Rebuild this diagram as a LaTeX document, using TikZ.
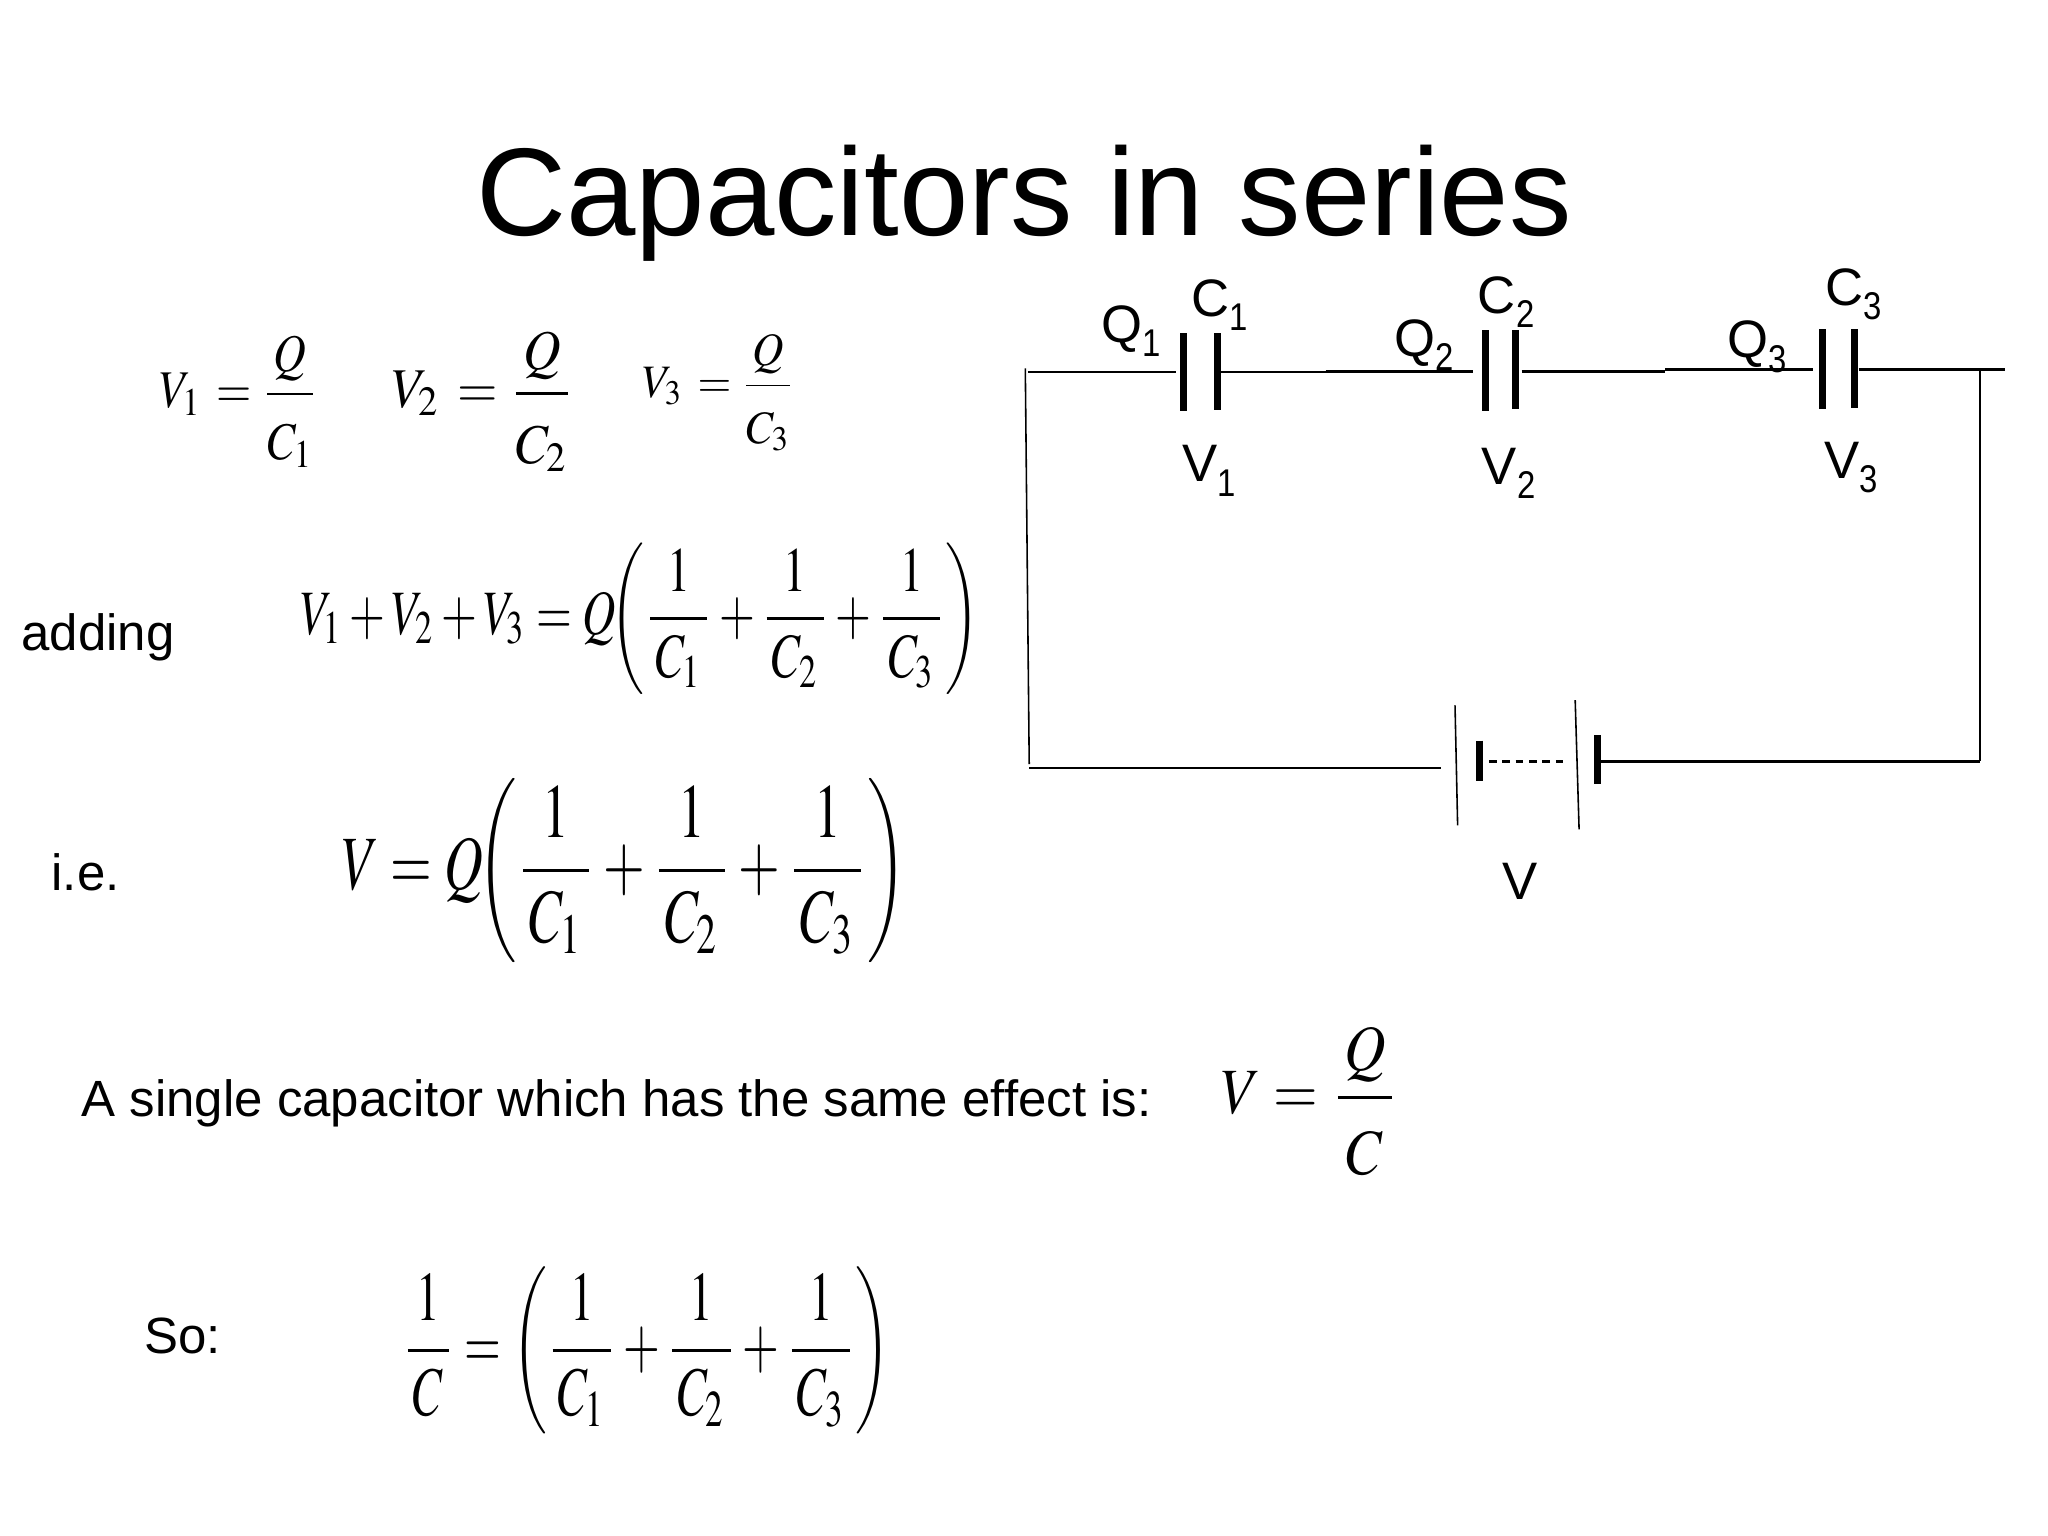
\documentclass[tikz,border=0pt]{standalone}
\usepackage{mathptmx}
\usepackage{graphicx}
\usepackage[no-math]{fontspec}
\setmainfont{Liberation Sans}
\newlength\unitpx
\setlength\unitpx{0.013061cm}
\newcommand{\fiteq}[3]{\resizebox*{#1\unitpx}{#2\unitpx}{$\displaystyle #3$}}
\newcommand{\labsub}[2]{#1\raisebox{-0.27em}{\scalebox{0.85}[1]{\fontsize{11pt}{11pt}\selectfont #2}}}
\newcommand{\tallc}[1]{\rule{0pt}{1.1em}C_{#1}}
\newcommand{\onefrac}[1]{\frac{1}{\,C_{#1}\,}}
\tikzset{
    wire/.style={line width=0.65pt},
    thinwire/.style={line width=0.45pt},
    plate/.style={line width=2pt},
    lab/.style={anchor=base west,inner sep=0pt,font=\fontsize{15pt}{18pt}\selectfont},
    txt/.style={anchor=base west,inner sep=0pt,font=\fontsize{14.5pt}{18pt}\selectfont},
    eqn/.style={inner sep=0pt}
}
\begin{document}
\begin{tikzpicture}[x=0.013061cm,y=-0.013061cm]
    \useasboundingbox (0, 0) rectangle (1568, 1176);

    \node (title) [anchor=base,inner sep=0pt,font=\fontsize{35.5pt}{40pt}\selectfont] at (784, 180) {Capacitors in series};

    \node (eqA) [eqn] at (183, 307.5) {\fiteq{122}{101}{V_1\,=\frac{\,Q\,}{\tallc{1}}}};
    \node (eqB) [eqn] at (370, 307.5) {\fiteq{140}{107}{V_2\,=\frac{\,Q\,}{\tallc{2}}}};
    \node (eqC) [eqn] at (550.5, 300.5) {\fiteq{117}{89}{V_3\,=\frac{\,Q\,}{\tallc{3}}}};
    \node (eqSum) [eqn] at (490, 473.5) {\fiteq{520}{116}{V_1+V_2+V_3=Q\!\!\left(\onefrac{1}+\onefrac{2}+\onefrac{3}\right)}};
    \node (eqTot) [eqn] at (478, 666.5) {\fiteq{432}{141}{V=Q\!\!\left(\onefrac{1}+\onefrac{2}+\onefrac{3}\right)}};
    \node (eqOne) [eqn] at (1003, 843) {\fiteq{136}{114}{V=\frac{\,Q\,}{\rule{0pt}{1.05em}\,C\,}}};
    \node (eqSo) [eqn] at (495, 1034) {\fiteq{374}{128}{\frac{1}{\,C\,}=\left(\onefrac{1}+\onefrac{2}+\onefrac{3}\right)}};

    \node (adding) [txt] at (16, 498) {adding};
    \node (ie) [txt] at (39, 682) {i.e.};
    \node (single) [txt] at (62, 855) {A single capacitor which has the same effect is:};
    \node (so) [txt] at (110, 1036) {So:};

    \node (C1) [lab] at (912, 242) {\labsub{C}{1}};
    \node (C2) [lab] at (1131, 240) {\labsub{C}{2}};
    \node (C3) [lab] at (1397, 234) {\labsub{C}{3}};
    \node (Q1) [lab] at (843, 262) {\labsub{Q}{1}};
    \node (Q2) [lab] at (1067, 273) {\labsub{Q}{2}};
    \node (Q3) [lab] at (1322, 274) {\labsub{Q}{3}};
    \node (V1) [lab] at (905, 369) {\labsub{V}{1}};
    \node (V2) [lab] at (1134, 371) {\labsub{V}{2}};
    \node (V3) [lab] at (1396, 366) {\labsub{V}{3}};
    \node (V) [lab] at (1150, 689) {V};

    \coordinate (topleft) at (785, 282);
    \coordinate (botleft) at (788, 585);
    \coordinate (topright) at (1516, 283);
    \coordinate (botright) at (1516, 583);

    \coordinate (wireA) at (787, 285);
    \coordinate (wireB) at (900, 285);
    \coordinate (wireC) at (935, 285);
    \coordinate (wireD) at (1047, 285);
    \coordinate (wireE) at (1015, 284.5);
    \coordinate (wireF) at (1128, 284.5);
    \coordinate (wireG) at (1165, 284.5);
    \coordinate (wireH) at (1275, 284.5);
    \coordinate (wireI) at (1275, 283);
    \coordinate (wireJ) at (1388, 283);
    \coordinate (wireK) at (1423, 283);
    \coordinate (wireL) at (1535, 283);
    \coordinate (wireM) at (788, 588);
    \coordinate (wireN) at (1103, 588);
    \coordinate (wireO) at (1225, 583);

    \draw[wire] (wireA) to (wireB);
    \draw[wire] (wireC) to (wireD);
    \draw[wire] (wireE) to (wireF);
    \draw[wire] (wireG) to (wireH);
    \draw[wire] (wireI) to (wireJ);
    \draw[wire] (wireK) to (wireL);
    \draw[wire] (wireM) to (wireN);
    \draw[wire] (wireO) to (botright);
    \draw[thinwire] (topleft) to (botleft);
    \draw[thinwire] (topright) to (botright);

    \draw[plate] (906, 255) to (906, 315);
    \draw[plate] (932, 255) to (932, 314);
    \draw[plate] (1137, 253) to (1137, 315);
    \draw[plate] (1160, 253) to (1160, 313);
    \draw[plate] (1395, 252) to (1395, 313);
    \draw[plate] (1420, 252) to (1420, 312);

    \draw[thinwire] (1114, 540) to (1116, 632);
    \draw[plate] (1133, 567) to (1133, 598);
    \draw[wire,dashed,dash pattern=on 2.2pt off 1.6pt] (1140, 583) to (1201, 583);
    \draw[thinwire] (1206, 536) to (1209, 635);
    \draw[plate] (1223, 563) to (1223, 600);
\end{tikzpicture}
\end{document}
